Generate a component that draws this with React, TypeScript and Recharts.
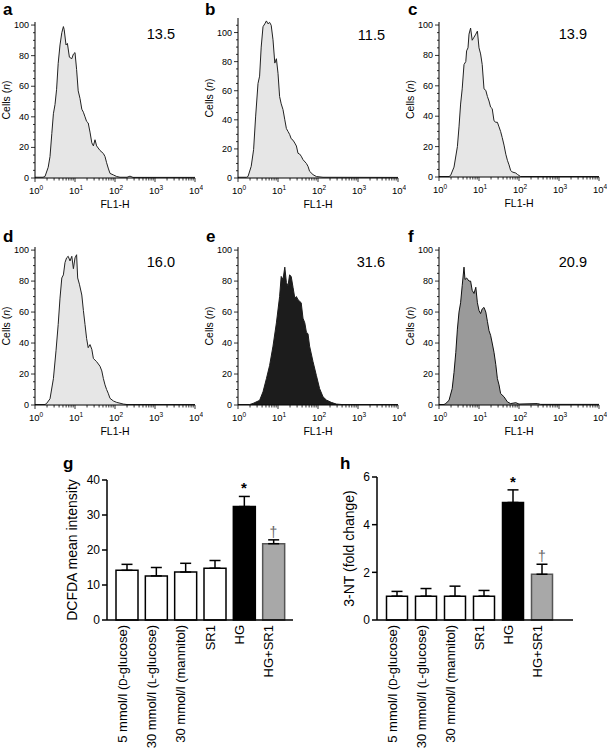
import {
  AreaChart,
  Area,
  BarChart,
  Bar,
  Cell,
  ErrorBar,
  ReferenceDot,
  XAxis,
  YAxis,
} from "recharts";

// flow cytometry histograms: [log10(FL1-H), cell count]
const histA: [number, number][] = [
  [0, 0.5], [0.2, 0.5], [0.25, 1], [0.33, 7], [0.375, 14], [0.42, 29], [0.46, 42], [0.5, 48],
  [0.54, 58], [0.58, 75], [0.625, 87], [0.67, 95], [0.71, 99], [0.73, 97], [0.775, 87], [0.81, 88],
  [0.86, 79], [0.92, 78], [0.96, 81], [1.0, 82], [1.04, 71], [1.08, 57], [1.125, 52], [1.17, 45],
  [1.21, 43], [1.25, 40], [1.29, 37], [1.33, 36], [1.375, 30], [1.42, 23], [1.46, 21], [1.5, 25],
  [1.54, 21], [1.625, 18], [1.71, 16], [1.75, 14], [1.79, 10], [1.83, 6.5], [1.875, 3], [1.96, 2],
  [2.04, 1], [2.125, 0.5], [2.3, 0.5], [2.375, 1.2], [2.45, 0.4], [4, 0.4],
];
const histB: [number, number][] = [
  [0, 0.5], [0.21, 0.5], [0.25, 1], [0.33, 8], [0.39, 19.5], [0.44, 42], [0.5, 65], [0.54, 70],
  [0.58, 90], [0.625, 104], [0.67, 106], [0.71, 108], [0.75, 106], [0.79, 107], [0.83, 105],
  [0.875, 95], [0.92, 79], [0.96, 82], [1.0, 72], [1.04, 56], [1.08, 51], [1.125, 47], [1.17, 40],
  [1.21, 34], [1.25, 32], [1.29, 30], [1.33, 27], [1.375, 26], [1.42, 24], [1.46, 22], [1.5, 17],
  [1.54, 16.5], [1.58, 15], [1.625, 12.6], [1.71, 10], [1.75, 8], [1.79, 4.6], [1.875, 2.3],
  [1.96, 1], [2.125, 0.5], [4, 0.4],
];
const histC: [number, number][] = [
  [0, 0.3], [0.25, 0.3], [0.29, 1], [0.375, 6.5], [0.46, 20], [0.5, 33], [0.54, 48], [0.58, 58],
  [0.625, 74], [0.67, 76], [0.69, 83], [0.725, 85], [0.75, 94], [0.79, 98], [0.83, 90], [0.875, 92],
  [0.92, 94], [0.96, 96], [1.0, 85], [1.04, 81], [1.08, 74], [1.125, 58], [1.17, 57], [1.21, 53],
  [1.25, 50], [1.29, 46], [1.33, 45], [1.375, 37], [1.42, 36], [1.46, 36], [1.5, 33], [1.54, 30],
  [1.58, 26], [1.625, 21], [1.67, 15], [1.71, 11], [1.75, 8], [1.79, 4.4], [1.83, 3.3], [1.92, 2.6],
  [1.96, 1.7], [2.04, 0.3], [4, 0.3],
];
const histD: [number, number][] = [
  [0, 0.3], [0.25, 0.3], [0.29, 1], [0.375, 4], [0.46, 17], [0.525, 35], [0.58, 52], [0.625, 69],
  [0.67, 82], [0.71, 84], [0.75, 92], [0.79, 95], [0.83, 96], [0.875, 93], [0.92, 96], [0.96, 88],
  [1.0, 95], [1.04, 97], [1.067, 82], [1.11, 78], [1.17, 71], [1.21, 61], [1.25, 52], [1.29, 43],
  [1.33, 37], [1.375, 39], [1.42, 36], [1.46, 30], [1.54, 28], [1.625, 25], [1.67, 22], [1.71, 17],
  [1.75, 13], [1.79, 10], [1.83, 7.6], [1.875, 4.3], [1.96, 2.6], [2.04, 1.7], [2.21, 0.6],
  [2.3, 0.3], [4, 0.3],
];
const histE: [number, number][] = [
  [0, 0.3], [0.29, 0.3], [0.375, 1], [0.54, 3], [0.625, 8.5], [0.71, 17], [0.79, 25.5], [0.875, 38],
  [0.96, 53], [1.04, 70], [1.08, 83], [1.125, 81], [1.17, 89], [1.21, 79], [1.25, 77], [1.29, 84],
  [1.33, 83], [1.375, 76], [1.42, 69], [1.46, 70], [1.5, 68], [1.54, 67], [1.58, 66], [1.625, 56],
  [1.67, 53], [1.71, 47], [1.75, 46], [1.79, 38], [1.875, 28], [1.96, 19], [2.04, 10.6],
  [2.125, 5.3], [2.21, 3.2], [2.33, 1.7], [2.46, 0.6], [2.6, 0.3], [4, 0.3],
];
const histF: [number, number][] = [
  [0, 0.3], [0.125, 0.3], [0.17, 1], [0.25, 3], [0.33, 10.6], [0.375, 21], [0.42, 34], [0.46, 49],
  [0.5, 60], [0.54, 66], [0.58, 77], [0.625, 89], [0.65, 81], [0.69, 82], [0.75, 80], [0.79, 80],
  [0.83, 74], [0.875, 72], [0.92, 76], [0.96, 66], [1.0, 61], [1.04, 59], [1.08, 62], [1.125, 63],
  [1.17, 60], [1.21, 54], [1.25, 48], [1.29, 45], [1.33, 40], [1.375, 34], [1.42, 26], [1.46, 17],
  [1.5, 13], [1.54, 7.4], [1.625, 5.3], [1.71, 2], [1.79, 0.9], [1.92, 1.5], [2.0, 0.6],
  [2.46, 0.9], [2.54, 0.4], [4, 0.4],
];
const meanFluor = ["13.5", "11.5", "13.9", "16.0", "31.6", "20.9"];

const decades = [0, 1, 2, 3, 4];
const minorMultiples = [2, 3, 4, 5, 6, 7, 8, 9];
const logTicks = [
  ...decades,
  ...decades.slice(0, -1).flatMap((d) => minorMultiples.map((m) => d + Math.log10(m))),
].sort((a, b) => a - b);
const countTicks = [0, 5, 10, 15, 20, 25, 30, 35, 40, 45, 50, 55, 60, 65, 70, 75, 80, 85, 90, 95, 100];
const countTicksB = [...countTicks, 105];

// bar charts g and h
const groups = [
  "5 mmol/l (D-glucose)",
  "30 mmol/l (L-glucose)",
  "30 mmol/l (mannitol)",
  "SR1",
  "HG",
  "HG+SR1",
];
const dcfdaMean = [14.2, 12.6, 13.7, 14.8, 32.4, 21.8];
const dcfdaSem = [1.7, 2.4, 2.5, 2.2, 2.9, 1.1];
const dcfdaTicks = [0, 10, 20, 30, 40];
const ntMean = [1.0, 1.0, 1.0, 1.0, 4.93, 1.92];
const ntSem = [0.2, 0.32, 0.42, 0.24, 0.53, 0.42];
const ntTicks = [0, 2, 4, 6];
const marks = ["", "", "", "", "*", "†"];

const barFills = ["#ffffff", "#ffffff", "#ffffff", "#ffffff", "#000000", "#a8a8a8"];
const barStrokes = ["#000", "#000", "#000", "#000", "#000", "#555"];
const FONT = '"Liberation Sans", Arial, Helvetica, sans-serif';

const LogTick = (props: any) => {
  const { x, y, payload } = props;
  const v = payload.value;
  const major = Math.abs(v - Math.round(v)) < 1e-6;
  return (
    <g>
      <line x1={x} x2={x} y1={y} y2={y + (major ? 4 : 2.5)} stroke="#000" strokeWidth={0.8} />
      {major && (
        <text x={x + 1} y={y + 16} textAnchor="middle" fontSize={9.5} fill="#000">
          10<tspan dy={-4} fontSize={6.5}>{Math.round(v)}</tspan>
        </text>
      )}
    </g>
  );
};

const CountTick = (props: any) => {
  const { x, y, payload } = props;
  const v = payload.value;
  const major = v % 20 === 0;
  return (
    <g>
      <line x1={x} x2={x - (major ? 4 : 2)} y1={y} y2={y} stroke="#000" strokeWidth={0.8} />
      {major && (
        <text x={x - 6} y={y + 3} textAnchor="end" fontSize={9} fill="#000">
          {v}
        </text>
      )}
    </g>
  );
};

const vbOf = (p: any) => p.viewBox ?? { x: p.x, y: p.y, width: p.width, height: p.height };

const flTitle = (p: any) => {
  const vb = vbOf(p);
  return (
    <text x={vb.x + vb.width / 2} y={vb.y + 30} textAnchor="middle" fontSize={10.5} fill="#000">
      FL1-H
    </text>
  );
};

const cellsTitle = (p: any) => {
  const vb = vbOf(p);
  const x = vb.x + vb.width - 25.5;
  const y = vb.y + vb.height / 2;
  return (
    <text x={x} y={y} transform={`rotate(-90 ${x} ${y})`} textAnchor="middle" fontSize={10.5} fill="#000">
      Cells (<tspan fontStyle="italic">n</tspan>)
    </text>
  );
};

type HistProps = {
  data: [number, number][];
  axisX: number;
  top: number;
  plotH: number;
  yMax: number;
  fill: string;
  stroke: string;
};

function Hist({ data, axisX, top, plotH, yMax, fill, stroke }: HistProps) {
  const rows = data.map(([x, y]) => ({ x, y }));
  const M = 8;
  const YW = 42;
  return (
    <div style={{ position: "absolute", left: axisX - YW, top: top - M }}>
      <AreaChart
        width={YW + 160 + 8}
        height={M + plotH + 36}
        data={rows}
        margin={{ top: M, right: 8, bottom: 0, left: 0 }}
      >
        <XAxis
          dataKey="x"
          type="number"
          domain={[0, 4]}
          ticks={logTicks}
          interval={0}
          tick={<LogTick />}
          tickSize={0}
          tickMargin={0}
          tickLine={false}
          height={36}
          axisLine={{ stroke: "#000", strokeWidth: 1 }}
          label={{ content: flTitle }}
          allowDataOverflow
        />
        <YAxis
          type="number"
          domain={[0, yMax]}
          ticks={yMax > 105 ? countTicksB : countTicks}
          interval={0}
          tick={<CountTick />}
          tickSize={0}
          tickMargin={0}
          tickLine={false}
          width={YW}
          axisLine={{ stroke: "#000", strokeWidth: 1 }}
          label={{ content: cellsTitle }}
          allowDataOverflow
        />
        <Area
          type="linear"
          dataKey="y"
          fill={fill}
          fillOpacity={1}
          stroke={stroke}
          strokeWidth={1}
          dot={false}
          activeDot={false}
          isAnimationActive={false}
        />
      </AreaChart>
    </div>
  );
}

const GroupTick = (props: any) => {
  const { x, y, payload } = props;
  const label: string = payload.value;
  const m = label.match(/^(.*\()([DL])(-.*)$/);
  const ty = y + 5;
  return (
    <text x={x} y={ty} transform={`rotate(-90 ${x} ${ty})`} textAnchor="end" fontSize={13} fill="#000">
      {m ? (
        <>
          {m[1]}
          <tspan fontSize={10}>{m[2]}</tspan>
          {m[3]}
        </>
      ) : (
        label
      )}
    </text>
  );
};

type BarsProps = {
  left: number;
  top: number;
  plotW: number;
  plotH: number;
  yMax: number;
  yTicks: number[];
  means: number[];
  sems: number[];
  barSize: number;
  padding: { left: number; right: number };
  title: string;
  titleDx: number;
};

function Bars({ left, top, plotW, plotH, yMax, yTicks, means, sems, barSize, padding, title, titleDx }: BarsProps) {
  const rows = groups.map((name, i) => ({
    name,
    mean: means[i],
    err: [0, sems[i]],
    upper: means[i] + sems[i],
    mark: marks[i],
  }));
  const M = 10;
  const YW = 57;
  const XH = 130;
  const yTitle = (p: any) => {
    const vb = vbOf(p);
    const x = vb.x + titleDx;
    const y = vb.y + vb.height / 2;
    return (
      <text x={x} y={y} transform={`rotate(-90 ${x} ${y})`} textAnchor="middle" fontSize={14} fill="#000">
        {title}
      </text>
    );
  };
  return (
    <div style={{ position: "absolute", left, top: top - M }}>
      <BarChart
        width={YW + plotW + 10}
        height={M + plotH + XH}
        data={rows}
        margin={{ top: M, right: 10, bottom: 0, left: 0 }}
      >
        <XAxis
          dataKey="name"
          type="category"
          padding={padding}
          interval={0}
          tickLine={false}
          tickSize={0}
          tickMargin={0}
          tick={<GroupTick />}
          height={XH}
          axisLine={{ stroke: "#000", strokeWidth: 1.5 }}
        />
        <YAxis
          type="number"
          domain={[0, yMax]}
          ticks={yTicks}
          interval={0}
          width={YW}
          tickSize={5}
          tickMargin={2}
          tick={{ fill: "#000", fontSize: 12 }}
          axisLine={{ stroke: "#000", strokeWidth: 1.5 }}
          tickLine={{ stroke: "#000", strokeWidth: 1.5 }}
          label={{ content: yTitle }}
        />
        <Bar dataKey="mean" barSize={barSize} strokeWidth={1.5} isAnimationActive={false}>
          {rows.map((r, i) => (
            <Cell key={r.name} fill={barFills[i]} stroke={barStrokes[i]} />
          ))}
          <ErrorBar dataKey="err" direction="y" width={5.5} stroke="#000" strokeWidth={1.5} />
        </Bar>
        {rows
          .filter((r) => r.mark)
          .map((r) => (
            <ReferenceDot
              key={r.name}
              x={r.name}
              y={r.upper}
              r={0}
              shape={(p: any) => (
                <text
                  x={p.cx}
                  y={p.cy - 3}
                  textAnchor="middle"
                  fontSize={r.mark === "*" ? 15 : 14}
                  fontWeight={r.mark === "*" ? "bold" : "normal"}
                  fill={r.mark === "*" ? "#000" : "#666"}
                >
                  {r.mark}
                </text>
              )}
            />
          ))}
      </BarChart>
    </div>
  );
}

const LIGHT = "#e6e6e6";
const panels = [
  { data: histA, axisX: 35, top: 22, plotH: 156, yMax: 102, fill: LIGHT, stroke: "#222" },
  { data: histB, axisX: 238, top: 18, plotH: 160, yMax: 110, fill: LIGHT, stroke: "#222" },
  { data: histC, axisX: 439, top: 22, plotH: 155, yMax: 102, fill: LIGHT, stroke: "#222" },
  { data: histD, axisX: 35, top: 247, plotH: 158, yMax: 102, fill: LIGHT, stroke: "#222" },
  { data: histE, axisX: 238, top: 247, plotH: 158, yMax: 102, fill: "#1c1c1c", stroke: "#1c1c1c" },
  { data: histF, axisX: 439, top: 247, plotH: 158, yMax: 102, fill: "#9a9a9a", stroke: "#111" },
];

const letters: [string, number, number][] = [
  ["a", 3, 15],
  ["b", 205, 15],
  ["c", 408, 15],
  ["d", 3, 242],
  ["e", 206, 242],
  ["f", 408, 242],
  ["g", 63, 469],
  ["h", 340, 469],
];
const valuePos: [number, number][] = [
  [175, 39],
  [385, 40],
  [587, 39],
  [175, 267],
  [385, 267],
  [587, 267],
];

export default function App() {
  return (
    <div
      style={{
        position: "absolute",
        left: 0,
        top: 0,
        width: 607,
        height: 749,
        background: "#fff",
        fontFamily: FONT,
        overflow: "hidden",
      }}
    >
      {panels.map((p, i) => (
        <Hist key={i} {...p} />
      ))}
      <Bars
        left={50}
        top={480}
        plotW={186}
        plotH={140}
        yMax={40}
        yTicks={dcfdaTicks}
        means={dcfdaMean}
        sems={dcfdaSem}
        barSize={22}
        padding={{ left: 5, right: 5 }}
        title="DCFDA mean intensity"
        titleDx={27}
      />
      <Bars
        left={320}
        top={477}
        plotW={196}
        plotH={143}
        yMax={6}
        yTicks={ntTicks}
        means={ntMean}
        sems={ntSem}
        barSize={21}
        padding={{ left: 5.5, right: 16.5 }}
        title="3-NT (fold change)"
        titleDx={34}
      />
      <svg
        width={607}
        height={749}
        style={{ position: "absolute", left: 0, top: 0, pointerEvents: "none" }}
      >
        {letters.map(([t, x, y]) => (
          <text key={t} x={x} y={y} fontSize={17} fontWeight="bold" fill="#000">
            {t}
          </text>
        ))}
        {valuePos.map(([x, y], i) => (
          <text key={i} x={x} y={y} fontSize={14.5} textAnchor="end" fill="#000">
            {meanFluor[i]}
          </text>
        ))}
      </svg>
    </div>
  );
}
